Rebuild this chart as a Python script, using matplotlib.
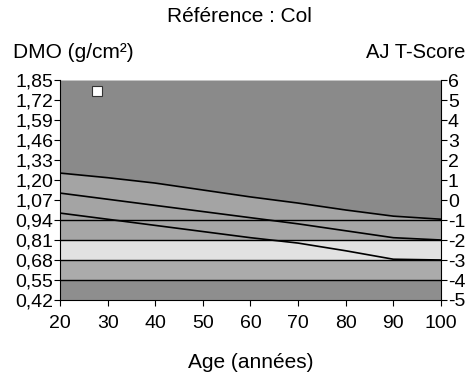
import matplotlib
matplotlib.use("Agg")
import matplotlib.pyplot as plt
import numpy as np

plt.rcParams['font.family'] = ['Liberation Sans', 'DejaVu Sans']
plt.rcParams['axes.unicode_minus'] = False

# --- data ---
ages = [20, 30, 40, 50, 60, 70, 80, 90, 100]
plus1sd = [1.245, 1.215, 1.18, 1.135, 1.09, 1.05, 1.005, 0.965, 0.945]
mean_bmd = [1.115, 1.075, 1.035, 0.995, 0.955, 0.915, 0.87, 0.825, 0.81]
minus1sd = [0.985, 0.945, 0.905, 0.865, 0.825, 0.79, 0.74, 0.685, 0.68]

patient_age = [27.8]
patient_bmd = [1.78]

bmd_ticks = [0.42, 0.55, 0.68, 0.81, 0.94, 1.07, 1.20, 1.33, 1.46, 1.59, 1.72, 1.85]
bmd_labels = ["0,42", "0,55", "0,68", "0,81", "0,94", "1,07", "1,20", "1,33", "1,46", "1,59", "1,72", "1,85"]
tscore_ticks = [-5, -4, -3, -2, -1, 0, 1, 2, 3, 4, 5, 6]
age_ticks = [20, 30, 40, 50, 60, 70, 80, 90, 100]

# band boundaries (BMD) and greys
band_edges = [0.42, 0.55, 0.68, 0.81, 0.94]
band_colors = ["#8e8e8e", "#ababab", "#e2e2e2", "#a6a6a6"]

fig = plt.figure(figsize=(4.73, 3.81), dpi=100)
ax = fig.add_axes([0.1268, 0.2126, 0.8055, 0.5774])

ax.set_xlim(20, 100)
ax.set_ylim(0.42, 1.85)

# background bands
for lo, hi, c in zip(band_edges[:-1], band_edges[1:], band_colors):
    ax.axhspan(lo, hi, color=c, lw=0, zorder=0)
ax.fill_between(ages, 0.94, plus1sd, color="#a4a4a4", lw=0, zorder=0)
ax.fill_between(ages, plus1sd, 1.85, color="#8a8a8a", lw=0, zorder=0)

# horizontal band lines
for y in band_edges[1:]:
    ax.axhline(y, color="black", lw=1.0, zorder=2)

# reference curves
ax.plot(ages, plus1sd, color="black", lw=1.2, zorder=3)
ax.plot(ages, mean_bmd, color="black", lw=1.2, zorder=3)
ax.plot(ages, minus1sd, color="black", lw=1.2, zorder=3)

# patient marker
ax.plot(patient_age, patient_bmd, marker="s", ms=7, mfc="white", mec="#333333",
        mew=0.8, ls="none", zorder=4)

ax.set_yticks(bmd_ticks)
ax.set_yticklabels(bmd_labels)
ax.set_xticks(age_ticks)
ax.tick_params(axis="both", direction="out", length=4, width=0.8, labelsize=14,
               colors="black")
ax.tick_params(axis="x", pad=7)
ax.tick_params(axis="y", pad=1)
ax.spines["top"].set_visible(False)
ax.spines["right"].set_visible(False)

ax2 = ax.twinx()
ax2.set_ylim(-5, 6)
ax2.set_yticks(tscore_ticks)
ax2.tick_params(axis="y", direction="out", length=4, width=0.8, labelsize=14, pad=1)
ax2.spines["top"].set_visible(False)
ax2.spines["left"].set_visible(False)
ax2.spines["bottom"].set_visible(False)
ax2.spines["right"].set_linewidth(0.8)

fig.text(0.507, 1 - 16 / 381, "Référence : Col", ha="center", va="center", fontsize=15)
fig.text(0.028, 1 - 52 / 381, "DMO (g/cm²)", ha="left", va="center", fontsize=15)
fig.text(0.983, 1 - 52 / 381, "AJ T-Score", ha="right", va="center", fontsize=14.5)
fig.text(0.53, 1 - 362 / 381, "Age (années)", ha="center", va="center", fontsize=15)

fig.savefig("out.png", dpi=100, facecolor="white")
